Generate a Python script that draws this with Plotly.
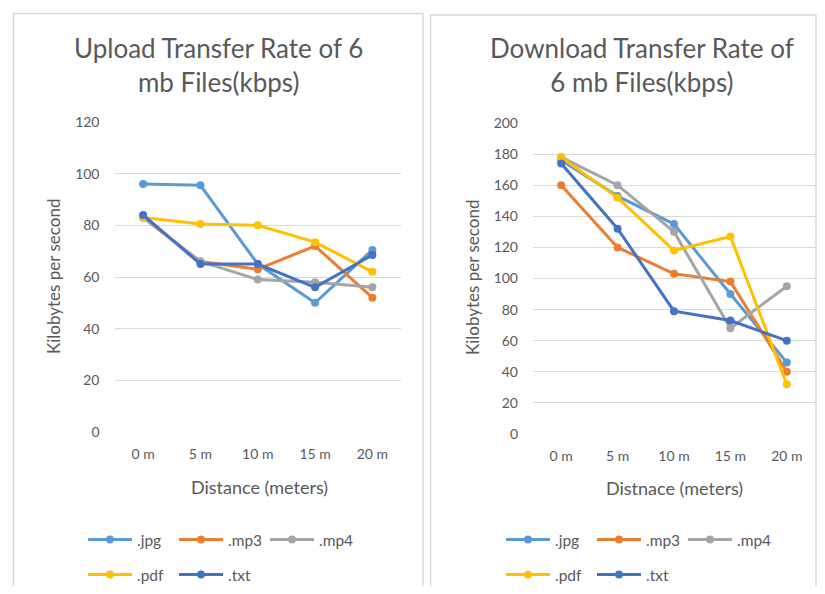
import plotly.graph_objects as go

W, H = 809, 578   # figure size; page body adds an 8 px margin on each side
OFF = 8

distances = ["0 m", "5 m", "10 m", "15 m", "20 m"]
series_names = [".jpg", ".mp3", ".mp4", ".pdf", ".txt"]
series_colors = ["#5B9BD5", "#ED7D31", "#A5A5A5", "#FFC000", "#4472C4"]

upload_jpg = [96, 95.5, 65, 50, 70.5]
upload_mp3 = [83, 66, 63, 72, 52]
upload_mp4 = [83, 66, 59, 58, 56]
upload_pdf = [83, 80.5, 80, 73.5, 62]
upload_txt = [84, 65, 65, 56, 68.5]

download_jpg = [176, 153, 135, 90, 46]
download_mp3 = [160, 120, 103, 98, 40]
download_mp4 = [178, 160, 130, 68, 95]
download_pdf = [178, 152, 118, 127, 32]
download_txt = [174, 132, 79, 73, 60]

upload_ticks = [0, 20, 40, 60, 80, 100, 120]
download_ticks = [0, 20, 40, 60, 80, 100, 120, 140, 160, 180, 200]

upload = [upload_jpg, upload_mp3, upload_mp4, upload_pdf, upload_txt]
download = [download_jpg, download_mp3, download_mp4, download_pdf, download_txt]

FONT = "Lato"
TXT = "#595959"
GRID = "#D9D9D9"

def px(x):
    return (x - OFF) / W

def py(y):
    return 1 - (y - OFF) / H

fig = go.Figure()

legend_ids = [["legend", "legend", "legend", "legend2", "legend2"],
              ["legend3", "legend3", "legend3", "legend4", "legend4"]]

for i, (name, color) in enumerate(zip(series_names, series_colors)):
    fig.add_trace(go.Scatter(
        x=distances, y=upload[i], name=name, mode="lines+markers",
        line=dict(color=color, width=3), marker=dict(color=color, size=8),
        xaxis="x", yaxis="y", legend=legend_ids[0][i]))
for i, (name, color) in enumerate(zip(series_names, series_colors)):
    fig.add_trace(go.Scatter(
        x=distances, y=download[i], name=name, mode="lines+markers",
        line=dict(color=color, width=3), marker=dict(color=color, size=8),
        xaxis="x2", yaxis="y2", legend=legend_ids[1][i]))

axis_common = dict(showline=False, zeroline=False, ticks="",
                   tickfont=dict(family=FONT, size=14, color=TXT))

fig.update_layout(
    width=W, height=H,
    margin=dict(l=0, r=0, t=0, b=0, autoexpand=False),
    paper_bgcolor="white", plot_bgcolor="white",
    font=dict(family=FONT, color=TXT),
    xaxis=dict(domain=[px(114.5), px(401)], anchor="y", type="category",
               range=[-0.5, 4.5], showgrid=False, ticklabelstandoff=12, **axis_common),
    yaxis=dict(domain=[py(432), py(122)], anchor="x", range=[0, 120],
               tickvals=upload_ticks, showgrid=True, gridcolor=GRID, gridwidth=1,
               ticklabelstandoff=14, **axis_common),
    xaxis2=dict(domain=[px(533), px(815)], anchor="y2", type="category",
                range=[-0.5, 4.5], showgrid=False, ticklabelstandoff=12, **axis_common),
    yaxis2=dict(domain=[py(434), py(123)], anchor="x2", range=[0, 200],
                tickvals=download_ticks, showgrid=True, gridcolor=GRID, gridwidth=1,
                ticklabelstandoff=14, **axis_common),
)

leg_common = dict(orientation="h", xanchor="left", yanchor="middle",
                  itemwidth=44, entrywidth=32, entrywidthmode="pixels",
                  bgcolor="rgba(0,0,0,0)",
                  font=dict(family=FONT, size=15.5, color=TXT))
fig.update_layout(
    legend=dict(x=px(83), y=py(540), **leg_common),
    legend2=dict(x=px(83), y=py(575), **leg_common),
    legend3=dict(x=px(501), y=py(540), **leg_common),
    legend4=dict(x=px(501), y=py(575), **leg_common),
)

ann = []
ann.append(dict(text="Upload Transfer Rate of 6<br>mb Files(kbps)", x=px(218), y=py(65),
                font=dict(size=26, color=TXT, family=FONT)))
ann.append(dict(text="Download Transfer Rate of<br>6 mb Files(kbps)", x=px(642), y=py(65),
                font=dict(size=26, color=TXT, family=FONT)))
ann.append(dict(text="Distance (meters)", x=px(259), y=py(487),
                font=dict(size=18, color=TXT, family=FONT)))
ann.append(dict(text="Distnace (meters)", x=px(674), y=py(488),
                font=dict(size=18, color=TXT, family=FONT)))
ann.append(dict(text="Kilobytes per second", x=px(53), y=py(277), textangle=-90,
                font=dict(size=17, color=TXT, family=FONT)))
ann.append(dict(text="Kilobytes per second", x=px(472), y=py(278), textangle=-90,
                font=dict(size=17, color=TXT, family=FONT)))
for a in ann:
    a.update(xref="paper", yref="paper", showarrow=False, xanchor="center", yanchor="middle")
fig.update_layout(annotations=ann)

fig.update_layout(shapes=[
    dict(type="rect", xref="paper", yref="paper", x0=px(13.5), x1=px(423), y0=-0.05, y1=py(13.5),
         line=dict(color="#D9D9D9", width=1.5), fillcolor="rgba(0,0,0,0)", layer="below"),
    dict(type="rect", xref="paper", yref="paper", x0=px(430.5), x1=px(816), y0=-0.05, y1=py(15),
         line=dict(color="#D9D9D9", width=1.5), fillcolor="rgba(0,0,0,0)", layer="below"),
])

fig.write_html("out.html")
